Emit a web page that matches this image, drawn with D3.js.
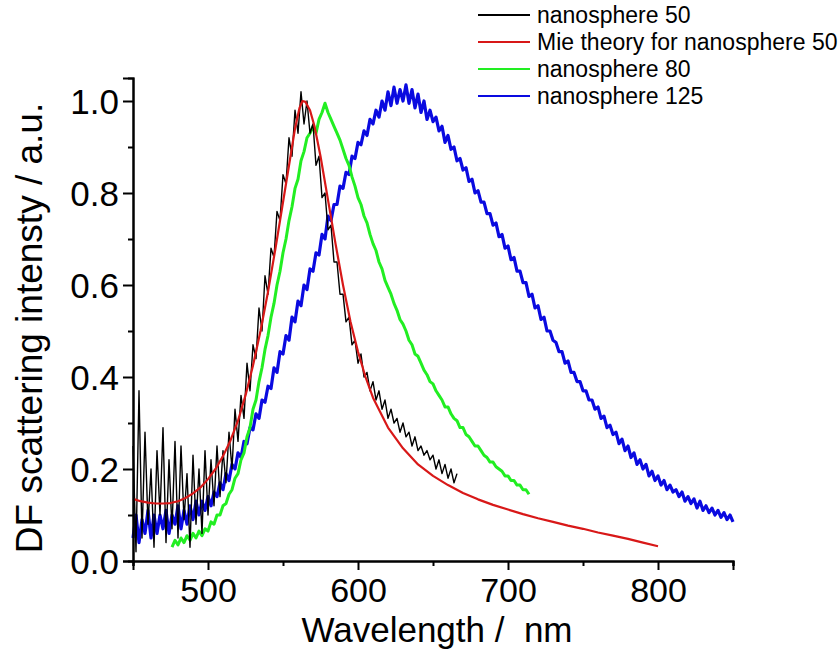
<!DOCTYPE html>
<html>
<head>
	<meta charset="UTF-8">
	<title>DF scattering spectra</title>
	<script src="https://d3js.org/d3.v7.min.js"></script>
	<style>
		body { margin: 0; background: #fff; }
		text { font-family: "Liberation Sans", Arial, sans-serif; fill: #000; }
	</style>
</head>
<body>
	<div id="chart"></div>
	<script>
		// spectra, sampled every 2 nm from the start wavelength
		let step = 2;

		let black50Start = 450;
		let black50 = [
			0.25, 0.02, 0.37, 0.05, 0.28, 0.08, 0.20, 0.03, 0.24, 0.10,
			0.29, 0.04, 0.22, 0.07, 0.26, 0.05, 0.25, 0.09, 0.19, 0.03,
			0.23, 0.08, 0.20, 0.06, 0.24, 0.10, 0.22, 0.12, 0.25, 0.14,
			0.24, 0.17, 0.28, 0.20, 0.33, 0.26, 0.36, 0.31, 0.43, 0.37,
			0.47, 0.44, 0.55, 0.50, 0.62, 0.58, 0.68, 0.66, 0.76, 0.74,
			0.84, 0.82, 0.92, 0.88, 0.98, 0.93, 1.02, 0.95, 1.00, 0.93,
			0.95, 0.86, 0.88, 0.79, 0.80, 0.72, 0.73, 0.65, 0.65, 0.58,
			0.58, 0.52, 0.53, 0.47, 0.48, 0.43, 0.45, 0.40, 0.41, 0.37,
			0.39, 0.35, 0.37, 0.33, 0.35, 0.31, 0.33, 0.30, 0.31, 0.28,
			0.30, 0.27, 0.28, 0.25, 0.27, 0.24, 0.25, 0.23, 0.24, 0.22,
			0.23, 0.20, 0.22, 0.19, 0.21, 0.18, 0.20, 0.17, 0.19
		];

		let mieWavelengths = [450, 455, 460, 465, 470, 475, 480, 485, 490, 495, 500, 505, 510, 515, 520, 525, 530, 535, 540, 545,
			550, 555, 558, 561, 563, 565, 568, 571, 575, 580, 585, 590, 595, 600, 605, 610, 620, 630, 640, 650,
			660, 670, 680, 690, 700, 710, 720, 730, 740, 750, 760, 770, 780, 790, 800];
		let mie50 = [0.135, 0.130, 0.127, 0.125, 0.125, 0.126, 0.130, 0.137, 0.147, 0.160, 0.178, 0.200, 0.228, 0.262, 0.305, 0.360, 0.425, 0.500, 0.585, 0.680,
			0.780, 0.880, 0.940, 0.985, 1.000, 0.998, 0.980, 0.945, 0.880, 0.785, 0.690, 0.600, 0.520, 0.455, 0.400, 0.355, 0.290, 0.245, 0.210, 0.185,
			0.165, 0.148, 0.134, 0.122, 0.112, 0.102, 0.093, 0.085, 0.077, 0.070, 0.062, 0.055, 0.048, 0.040, 0.032];

		let green80Start = 476;
		let green80 = [
			0.030, 0.045, 0.035, 0.050, 0.040, 0.055, 0.045, 0.060, 0.050, 0.065,
			0.055, 0.070, 0.065, 0.085, 0.080, 0.100, 0.100, 0.120, 0.125, 0.145,
			0.155, 0.180, 0.190, 0.220, 0.235, 0.270, 0.290, 0.330, 0.350, 0.390,
			0.420, 0.460, 0.490, 0.530, 0.560, 0.600, 0.630, 0.670, 0.700, 0.740,
			0.770, 0.810, 0.830, 0.870, 0.890, 0.920, 0.930, 0.945, 0.930, 0.960,
			0.975, 0.995, 0.975, 0.960, 0.945, 0.930, 0.915, 0.895, 0.875, 0.860,
			0.835, 0.815, 0.790, 0.775, 0.750, 0.735, 0.710, 0.690, 0.675, 0.650,
			0.635, 0.610, 0.595, 0.580, 0.560, 0.545, 0.525, 0.515, 0.500, 0.480,
			0.470, 0.450, 0.445, 0.430, 0.415, 0.405, 0.390, 0.385, 0.370, 0.360,
			0.350, 0.335, 0.335, 0.320, 0.310, 0.305, 0.290, 0.290, 0.275, 0.270,
			0.260, 0.250, 0.250, 0.240, 0.230, 0.225, 0.215, 0.215, 0.205, 0.200,
			0.195, 0.185, 0.185, 0.175, 0.175, 0.165, 0.165, 0.155, 0.155, 0.145
		];

		let blue125Start = 450;
		let blue125 = [
			0.050, 0.100, 0.040, 0.090, 0.060, 0.110, 0.050, 0.100, 0.060, 0.100,
			0.070, 0.110, 0.060, 0.100, 0.080, 0.120, 0.070, 0.110, 0.080, 0.120,
			0.090, 0.130, 0.100, 0.130, 0.110, 0.140, 0.120, 0.150, 0.140, 0.170,
			0.155, 0.190, 0.175, 0.210, 0.200, 0.235, 0.225, 0.260, 0.255, 0.290,
			0.285, 0.320, 0.310, 0.350, 0.345, 0.380, 0.375, 0.420, 0.410, 0.455,
			0.450, 0.490, 0.480, 0.530, 0.520, 0.565, 0.555, 0.600, 0.590, 0.635,
			0.630, 0.670, 0.665, 0.710, 0.700, 0.750, 0.740, 0.775, 0.775, 0.815,
			0.810, 0.845, 0.840, 0.880, 0.875, 0.910, 0.905, 0.935, 0.925, 0.960,
			0.950, 0.980, 0.965, 1.000, 0.980, 1.020, 0.990, 1.030, 0.995, 1.025,
			1.000, 1.035, 0.995, 1.025, 0.985, 1.015, 0.975, 1.000, 0.960, 0.980,
			0.955, 0.965, 0.935, 0.945, 0.910, 0.925, 0.895, 0.900, 0.870, 0.875,
			0.850, 0.855, 0.825, 0.830, 0.800, 0.805, 0.780, 0.780, 0.755, 0.755,
			0.730, 0.735, 0.705, 0.710, 0.680, 0.685, 0.655, 0.660, 0.630, 0.630,
			0.605, 0.605, 0.575, 0.580, 0.550, 0.555, 0.525, 0.530, 0.500, 0.500,
			0.480, 0.475, 0.455, 0.455, 0.430, 0.435, 0.410, 0.410, 0.390, 0.390,
			0.370, 0.370, 0.350, 0.350, 0.330, 0.335, 0.310, 0.315, 0.290, 0.295,
			0.275, 0.280, 0.255, 0.265, 0.240, 0.250, 0.225, 0.235, 0.210, 0.220,
			0.200, 0.210, 0.185, 0.195, 0.175, 0.185, 0.165, 0.175, 0.155, 0.165,
			0.150, 0.155, 0.140, 0.150, 0.130, 0.140, 0.125, 0.135, 0.115, 0.130,
			0.110, 0.120, 0.105, 0.115, 0.100, 0.110, 0.095, 0.105, 0.090, 0.100,
			0.085
		];

		let xMajorTicks = [500, 600, 700, 800];
		let xMinorTicks = [450, 550, 650, 750, 850];
		let yMajorTicks = [0, 0.2, 0.4, 0.6, 0.8, 1.0];
		let yMinorTicks = [0.1, 0.3, 0.5, 0.7, 0.9];

		let legendNames = ["nanosphere 50", "Mie theory for nanosphere 50", "nanosphere 80", "nanosphere 125"];
		let colors = ["#000000", "#d81818", "#22ee22", "#0a0ae0"];

		let width = 840;
		let height = 655;
		let svg = d3.select("#chart").append("svg")
			.attr("width", width)
			.attr("height", height);

		let x = d3.scaleLinear().domain([450, 850]).range([133, 733]);
		let y = d3.scaleLinear().domain([0, 1.05]).range([561, 78]);

		function sampled(start, values) {
			return values.map((v, i) => [start + i * step, v]);
		}

		let series = [
			{ pts: sampled(black50Start, black50), color: colors[0], w: 1.4 },
			{ pts: mieWavelengths.map((w, i) => [w, mie50[i]]), color: colors[1], w: 2.2 },
			{ pts: sampled(green80Start, green80), color: colors[2], w: 3 },
			{ pts: sampled(blue125Start, blue125), color: colors[3], w: 3.2 }
		];

		let line = d3.line()
			.x(d => x(d[0]))
			.y(d => y(d[1]));

		// draw order: blue and green under black and red
		[3, 2, 0, 1].forEach(i => {
			svg.append("path")
				.attr("d", line(series[i].pts))
				.attr("fill", "none")
				.attr("stroke", series[i].color)
				.attr("stroke-width", series[i].w)
				.attr("stroke-linejoin", "round");
		});

		// axes
		let xAxis = svg.append("g").attr("transform", "translate(0,561)");
		xAxis.call(d3.axisBottom(x).tickValues(xMajorTicks).tickSize(9).tickFormat(d3.format("d")));
		xAxis.append("g").call(d3.axisBottom(x).tickValues(xMinorTicks).tickSize(5).tickFormat(""));

		let yAxis = svg.append("g").attr("transform", "translate(133,0)");
		yAxis.call(d3.axisLeft(y).tickValues(yMajorTicks).tickSize(10).tickFormat(d3.format(".1f")));
		yAxis.append("g").call(d3.axisLeft(y).tickValues(yMinorTicks).tickSize(5).tickFormat(""));

		svg.selectAll(".domain").attr("stroke", "#000").attr("stroke-width", 2);
		svg.selectAll(".tick line").attr("stroke", "#000").attr("stroke-width", 2);

		xAxis.selectAll(".tick text")
			.attr("font-size", 34)
			.attr("font-family", "Liberation Sans, Arial, sans-serif")
			.attr("dy", null)
			.attr("y", 41);
		yAxis.selectAll(".tick text")
			.attr("font-size", 35)
			.attr("font-family", "Liberation Sans, Arial, sans-serif")
			.attr("x", -14)
			.attr("dy", "0.35em");

		// axis titles
		svg.append("text")
			.attr("x", 437)
			.attr("y", 642)
			.attr("text-anchor", "middle")
			.attr("font-size", 35)
			.attr("xml:space", "preserve")
			.text("Wavelength /  nm");

		svg.append("text")
			.attr("transform", "translate(42,328) rotate(-90)")
			.attr("text-anchor", "middle")
			.attr("font-size", 37)
			.text("DF scattering intensty / a.u.");

		// legend
		let legend = svg.append("g");
		legendNames.forEach((name, i) => {
			let ly = 15 + i * 27;
			legend.append("line")
				.attr("x1", 478).attr("x2", 530)
				.attr("y1", ly).attr("y2", ly)
				.attr("stroke", colors[i])
				.attr("stroke-width", 2);
			legend.append("text")
				.attr("x", 537)
				.attr("y", ly + 8)
				.attr("font-size", 23)
				.text(name);
		});
	</script>
</body>
</html>
